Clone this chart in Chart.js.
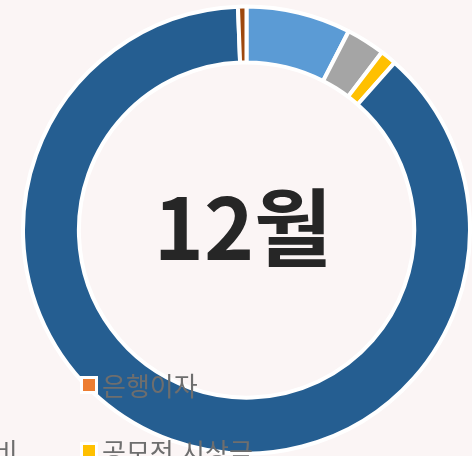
<!DOCTYPE html>
<html lang="ko">
<head>
<meta charset="utf-8">
<script src="https://cdn.jsdelivr.net/npm/chart.js@4.4.1/dist/chart.umd.min.js"></script>
<style>
  html, body { margin: 0; padding: 0; background: #fbf5f5; }
  #wrap { position: relative; width: 472px; height: 456px; overflow: hidden; }
  #incomeChart { position: absolute; left: 0; top: 0; }
  #centerLabel {
    position: absolute; left: 243px; top: 222px;
    transform: translate(-50%, -50%);
    font-family: "Noto Sans CJK KR", sans-serif; font-weight: 700;
    font-size: 85px; line-height: 1; color: #262626; white-space: nowrap;
  }
  .legendItem {
    position: absolute; display: flex; align-items: center;
    font-family: "Noto Sans CJK KR", sans-serif; font-size: 26px;
    color: #6e6e6e; white-space: nowrap; line-height: 1;
  }
  .legendBox {
    width: 12px; height: 12px; border: 3px solid #ffffff;
    margin-right: 4px; flex: none;
  }
</style>
</head>
<body>
<div id="wrap">
  <canvas id="incomeChart" width="472" height="456"></canvas>
  <div id="centerLabel">12월</div>
</div>
<script>
// 12월 수입 구성
const monthLabel = '12월';
const categories = ['아르바이트', '활동비', '공모전 시상금', '용돈', '기타 수입', '은행이자'];
const amounts = [756, 280, 117, 8786, 61, 0];
const sliceColors = ['#5b9bd5', '#a5a5a5', '#ffc000', '#255e91', '#9e480e', '#ed7d31'];

// 범례에 보이는 항목
const legendNames = ['은행이자', '활동비', '공모전 시상금'];

document.getElementById('centerLabel').textContent = monthLabel;

let ctx = document.getElementById('incomeChart').getContext('2d');
let incomeChart = new Chart(ctx, {
    type: 'doughnut',
    data: {
        labels: categories,
        datasets: [{
            data: amounts,
            backgroundColor: sliceColors,
            borderColor: '#ffffff',
            borderWidth: 4
        }]
    },
    options: {
        responsive: false,
        animation: false,
        devicePixelRatio: 1,
        cutout: '75%',
        layout: { padding: { left: 21, right: 0, top: 4, bottom: 0 } },
        plugins: {
            legend: { display: false },
            tooltip: { enabled: false }
        }
    }
});

// 범례 직접 그리기 (차트 위에 겹쳐 있음)
let legendSpots = { '은행이자': [80, 385], '활동비': [-76, 451], '공모전 시상금': [80, 451] };
let wrap = document.getElementById('wrap');
legendNames.forEach(name => {
    let idx = categories.indexOf(name);
    let item = document.createElement('div');
    item.className = 'legendItem';
    let box = document.createElement('span');
    box.className = 'legendBox';
    box.style.background = sliceColors[idx];
    let text = document.createElement('span');
    text.textContent = name;
    item.appendChild(box);
    item.appendChild(text);
    item.style.left = legendSpots[name][0] + 'px';
    item.style.top = (legendSpots[name][1] - 13) + 'px';
    wrap.appendChild(item);
});
</script>
</body>
</html>
